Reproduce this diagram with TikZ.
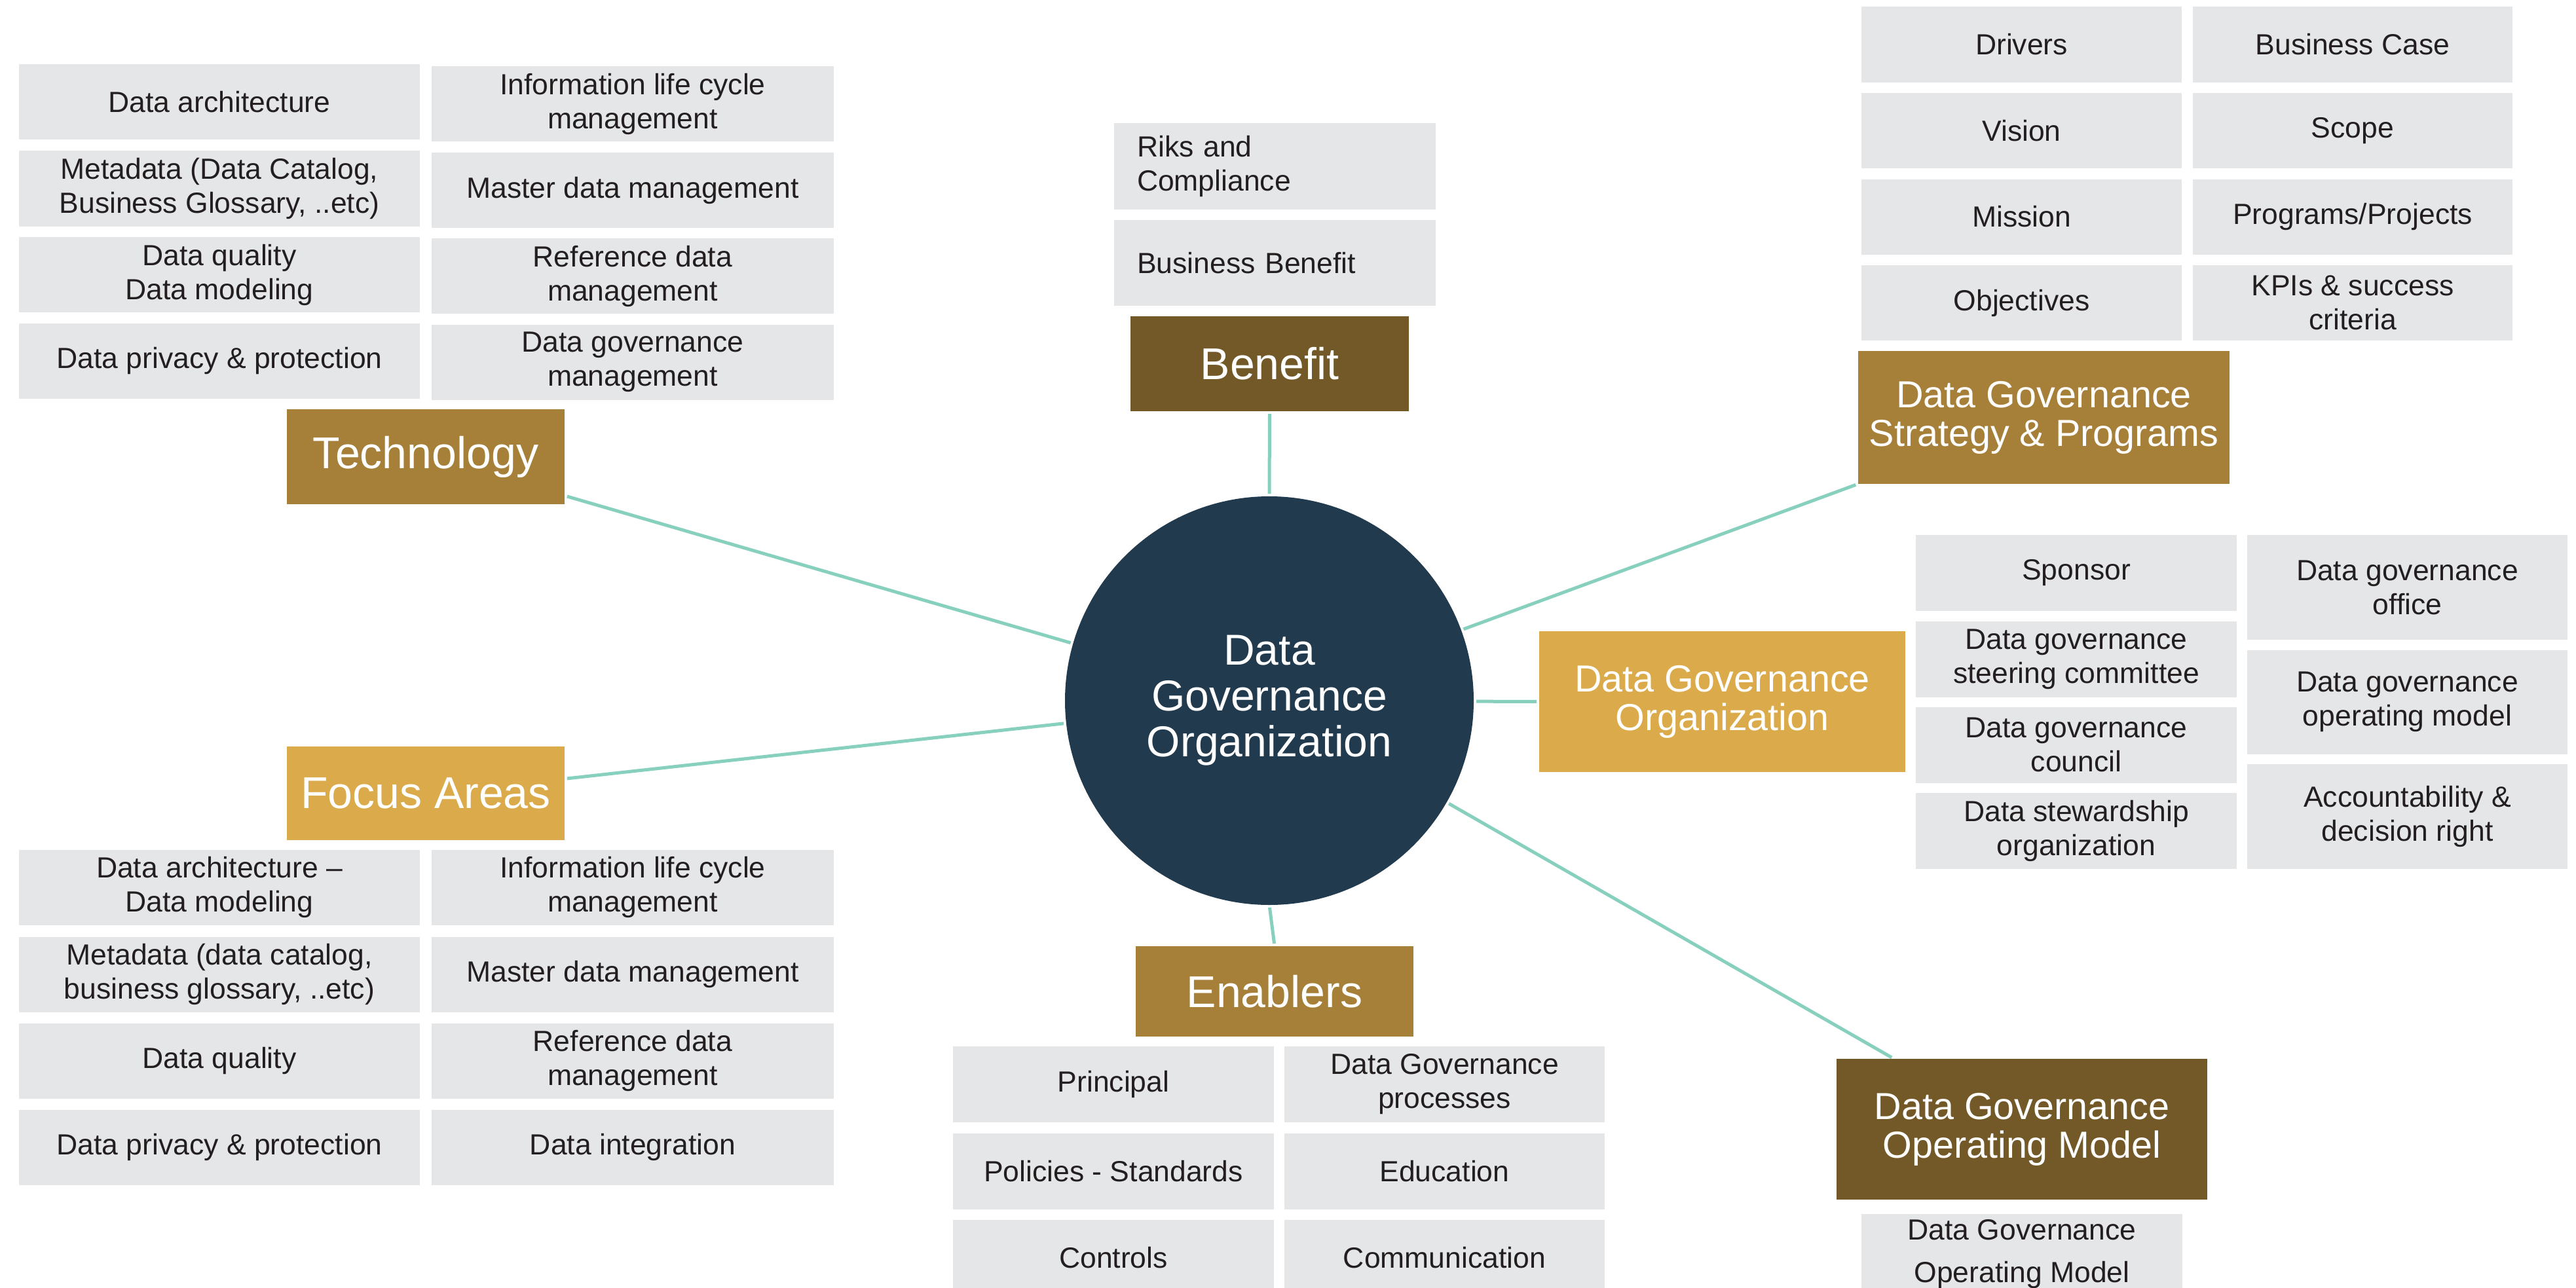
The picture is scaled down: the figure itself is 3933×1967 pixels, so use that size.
\documentclass[tikz,border=0pt]{standalone}
\usepackage{fontspec}
\setmainfont{Liberation Sans}
\usetikzlibrary{calc}
\definecolor{cellgray}{RGB}{229,230,232}
\definecolor{ink}{RGB}{35,31,32}
\definecolor{darkbrown}{RGB}{114,89,39}
\definecolor{midgold}{RGB}{166,128,57}
\definecolor{lightgold}{RGB}{219,170,75}
\definecolor{navy}{RGB}{33,58,77}
\definecolor{teal}{RGB}{136,208,190}
\begin{document}
\begin{tikzpicture}[x=1pt,y=-1pt,
  sz/.style n args={2}{minimum width=#1pt,minimum height=#2pt},
  cell/.style={fill=cellgray,text=ink,inner sep=0pt,outer sep=0pt,align=center,font=\fontsize{44.5}{52}\selectfont},
  title/.style={text=white,inner sep=0pt,outer sep=0pt,align=center,font=\fontsize{68}{70}\selectfont},
  titletwo/.style={text=white,inner sep=0pt,outer sep=0pt,align=center,font=\fontsize{57.5}{59}\selectfont},
  conn/.style={draw=teal,line width=5pt,shorten <=4pt,shorten >=4pt}]
\path[use as bounding box,fill=white] (0,0) rectangle (3933,1967);

% Technology
\node[cell,sz={612}{115}] (t11) at (335,155.5) {Data architecture};
\node[cell,sz={614}{115}] (t12) at (966,158.5) {Information life cycle\\management};
\node[cell,sz={612}{116}] (t21) at (335,288) {Metadata (Data Catalog,\\Business Glossary, ..etc)};
\node[cell,sz={614}{115}] (t22) at (966,290.5) {Master data management};
\node[cell,sz={612}{115}] (t31) at (335,419.5) {Data quality\\Data modeling};
\node[cell,sz={614}{115}] (t32) at (966,421.5) {Reference data\\management};
\node[cell,sz={612}{115}] (t41) at (335,551) {Data privacy \& protection};
\node[cell,sz={614}{115}] (t42) at (966,553) {Data governance\\management};
\node[title,fill=midgold,sz={424}{145}] (tech) at (650,697.5) {Technology};

% Focus Areas
\node[title,fill=lightgold,sz={424}{143}] (focus) at (650,1211.5) {Focus Areas};
\node[cell,sz={612}{115}] (f11) at (335,1355) {Data architecture –\\Data modeling};
\node[cell,sz={614}{115}] (f12) at (966,1355) {Information life cycle\\management};
\node[cell,sz={612}{115}] (f21) at (335,1488) {Metadata (data catalog,\\business glossary, ..etc)};
\node[cell,sz={614}{115}] (f22) at (966,1488) {Master data management};
\node[cell,sz={612}{115}] (f31) at (335,1620) {Data quality};
\node[cell,sz={614}{115}] (f32) at (966,1620) {Reference data\\management};
\node[cell,sz={612}{115}] (f41) at (335,1752) {Data privacy \& protection};
\node[cell,sz={614}{115}] (f42) at (966,1752) {Data integration};

% Benefit
\node[cell,align=left,text width=421pt,sz={491}{132}] (b1) at (1946.5,254) {Riks and\\Compliance};
\node[cell,align=left,text width=421pt,sz={491}{131}] (b2) at (1946.5,401.5) {Business Benefit};
\node[title,fill=darkbrown,sz={425}{145}] (ben) at (1938.5,555.5) {Benefit};

% Strategy
\node[cell,sz={489}{115}] (s11) at (3086.5,68) {Drivers};
\node[cell,sz={488}{115}] (s12) at (3592,68) {Business Case};
\node[cell,sz={489}{115}] (s21) at (3086.5,199.5) {Vision};
\node[cell,sz={488}{115}] (s22) at (3592,199.5) {Scope};
\node[cell,sz={489}{115}] (s31) at (3086.5,331) {Mission};
\node[cell,sz={488}{115}] (s32) at (3592,331) {Programs/Projects};
\node[cell,sz={489}{115}] (s41) at (3086.5,462.5) {Objectives};
\node[cell,sz={488}{115}] (s42) at (3592,462.5) {KPIs \& success\\criteria};
\node[titletwo,fill=midgold,sz={567}{203}] (strat) at (3120.5,637.5) {Data Governance\\Strategy \& Programs};

% Organization
\node[titletwo,fill=lightgold,sz={559}{215}] (org) at (2629.5,1071.5) {Data Governance\\Organization};
\node[cell,sz={490}{116}] (o11) at (3170,875) {Sponsor};
\node[cell,sz={490}{116}] (o21) at (3170,1006.5) {Data governance\\steering committee};
\node[cell,sz={490}{116}] (o31) at (3170,1137.5) {Data governance\\council};
\node[cell,sz={490}{116}] (o41) at (3170,1269) {Data stewardship\\organization};
\node[cell,sz={489}{160}] (o12) at (3675.5,897) {Data governance\\office};
\node[cell,sz={489}{159}] (o22) at (3675.5,1072) {Data governance\\operating model};
\node[cell,sz={489}{160}] (o32) at (3675.5,1247) {Accountability \&\\decision right};

% Enablers
\node[title,fill=midgold,sz={424}{138}] (ena) at (1946,1514) {Enablers};
\node[cell,sz={490}{116}] (e11) at (1700,1656) {Principal};
\node[cell,sz={489}{116}] (e12) at (2205.5,1656) {Data Governance\\processes};
\node[cell,sz={490}{116}] (e21) at (1700,1789) {Policies - Standards};
\node[cell,sz={489}{116}] (e22) at (2205.5,1789) {Education};
\node[cell,sz={490}{116}] (e31) at (1700,1921) {Controls};
\node[cell,sz={489}{116}] (e32) at (2205.5,1921) {Communication};

% Operating model
\node[titletwo,fill=darkbrown,sz={566}{215}] (opm) at (3087,1724.5) {Data Governance\\Operating Model};
\node[cell,anchor=north,minimum width=490pt,text height=104pt,text depth=56pt,font=\fontsize{44.5}{65}\selectfont] (om1) at (3087,1854) {Data Governance\\Operating Model};

% Centre
\node[circle,fill=navy,minimum size=624pt,inner sep=0pt,outer sep=0pt,text=white,align=center,font=\fontsize{66}{70}\selectfont] (c) at (1938,1070) {Data\\Governance\\Organization};

% Connectors
\draw[conn] (c) -- ($(tech.east)!0.82!(tech.south east)$);
\draw[conn] (c) -- ($(focus.east)!0.31!(focus.north east)$);
\draw[conn] (c.north) -- (ben.south);
\draw[conn] (c) -- (strat.south west);
\draw[conn] (c) -- (org.west);
\draw[conn] (c.south) -- (ena.north);
\draw[conn] (c) -- ($(opm.north west)!0.31!(opm.north)$);
\end{tikzpicture}
\end{document}
